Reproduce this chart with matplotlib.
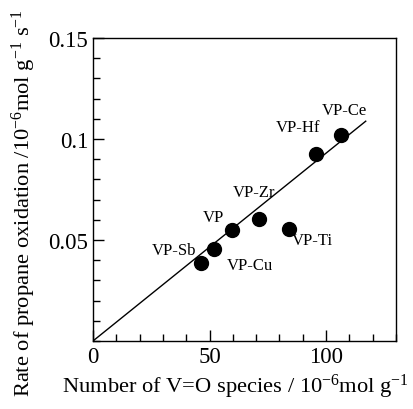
import matplotlib
matplotlib.use('Agg')
import matplotlib.pyplot as plt
import numpy as np

plt.rcParams['font.family'] = ['Liberation Serif', 'DejaVu Serif']
plt.rcParams['mathtext.fontset'] = 'custom'
plt.rcParams['mathtext.rm'] = 'Liberation Serif'
plt.rcParams['mathtext.it'] = 'Liberation Serif:italic'

# data
catalysts = ['VP-Sb', 'VP-Cu', 'VP', 'VP-Zr', 'VP-Ti', 'VP-Hf', 'VP-Ce']
vo_species = [46.2, 52.1, 59.7, 71.1, 83.9, 95.6, 106.4]
rate = [0.0386, 0.0456, 0.0548, 0.0605, 0.0552, 0.0924, 0.1018]
label_x = [34.9, 67.5, 51.7, 69.2, 93.9, 88.0, 107.7]
label_y = [0.0452, 0.0378, 0.0616, 0.0738, 0.0499, 0.1059, 0.1143]

fit_x = [0, 117]
fit_slope = 0.00093

fig = plt.figure(figsize=(4.14, 4.10), dpi=100)
ax = fig.add_axes([0.2246, 0.1659, 0.732, 0.739])

ax.plot(fit_x, [fit_slope * v for v in fit_x], color='black', lw=1.0)
ax.scatter(vo_species, rate, s=100, color='black', zorder=3)

for name, lx, ly in zip(catalysts, label_x, label_y):
    ax.text(lx, ly, name, fontsize=12, ha='center', va='center')

ax.set_xlim(0, 130)
ax.set_ylim(0, 0.15)
ax.set_xticks([0, 50, 100])
ax.set_xticks(np.arange(0, 131, 10), minor=True)
ax.set_yticks([0.05, 0.1, 0.15])
ax.set_yticklabels(['0.05', '0.1', '0.15'])
ax.set_yticks(np.arange(0, 0.151, 0.01), minor=True)
ax.tick_params(which='both', direction='in', top=False, right=False,
               labelsize=16.5, width=1.0)
ax.tick_params(which='major', length=8)
ax.tick_params(which='minor', length=5)
for s in ax.spines.values():
    s.set_linewidth(1.0)

fig.text(0.15, 0.022, 'Number of V=O species / 10$^{-6}$mol g$^{-1}$',
         fontsize=16.2, ha='left', va='bottom')
fig.text(0.058, 0.505, 'Rate of propane oxidation /10$^{-6}$mol g$^{-1}$ s$^{-1}$',
         fontsize=16.2, rotation=90, ha='center', va='center')

fig.savefig('out.png', dpi=100)
